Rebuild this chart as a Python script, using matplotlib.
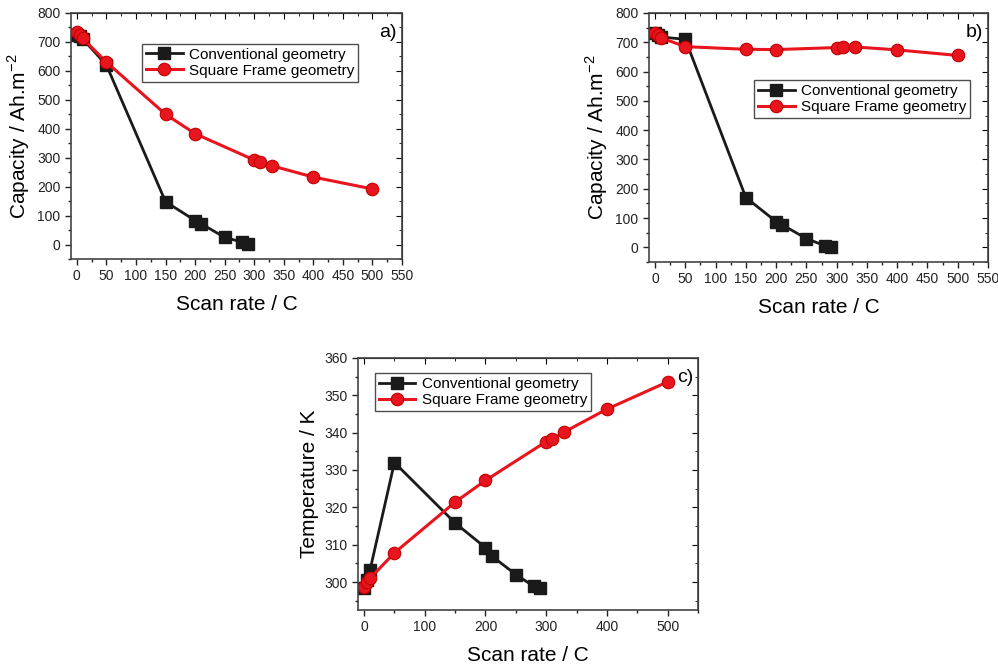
import numpy as np
import matplotlib.pyplot as plt
from matplotlib.ticker import MultipleLocator

plt.rcParams['font.family'] = ['Liberation Sans', 'DejaVu Sans']
plt.rcParams['mathtext.fontset'] = 'custom'
plt.rcParams['mathtext.rm'] = 'Liberation Sans'

# scan rates
rate = [0, 5, 10, 50, 150, 200, 210, 250, 280, 290]
rate_sq = [0, 5, 10, 50, 150, 200, 300, 310, 330, 400, 500]

# a) capacity
cap_conv_a = [725, 720, 710, 620, 148, 83, 72, 25, 8, 3]
cap_sq_a = [733, 725, 712, 630, 450, 383, 292, 285, 272, 233, 192]

# b) capacity
cap_conv_b = [730, 725, 718, 710, 170, 88, 77, 30, 6, 2]
cap_sq_b = [732, 725, 715, 685, 676, 675, 682, 683, 684, 674, 655]

# c) temperature
temp_conv = [298.5, 300.5, 303.3, 332.0, 315.8, 309.2, 307.0, 302.0, 298.8, 298.3]
temp_sq = [298.7, 300.0, 301.0, 307.8, 321.4, 327.2, 337.6, 338.2, 340.2, 346.3, 353.6]

fig = plt.figure(figsize=(9.98, 6.65), dpi=100)


def panel(rect, y1, y2, ylim, xlim, xmaj, ymaj, ylabel, tag, leg_anchor):
    ax = fig.add_axes(rect)
    ax.plot(rate, y1, color="#1a1a1a", lw=2, marker="s", ms=8,
            label="Conventional geometry")
    ax.plot(rate_sq, y2, color="#e8141e", lw=2.2, marker="o", ms=9,
            mec="#c00000", mew=0.8, label="Square Frame geometry")
    ax.set_xlim(*xlim)
    ax.set_ylim(*ylim)
    ax.xaxis.set_major_locator(MultipleLocator(xmaj))
    ax.xaxis.set_minor_locator(MultipleLocator(xmaj / 2))
    ax.yaxis.set_major_locator(MultipleLocator(ymaj))
    ax.yaxis.set_minor_locator(MultipleLocator(ymaj / 2))
    ax.tick_params(which="both", direction="out", labelsize=10, colors="#222222")
    ax.tick_params(which="major", length=4, width=1)
    ax.tick_params(which="minor", length=2.5, width=1)
    for s in ax.spines.values():
        s.set_linewidth(1.2)
        s.set_color("#444444")
    # mirror ticks on top and right, pointing in
    top = ax.secondary_xaxis("top")
    top.xaxis.set_major_locator(MultipleLocator(xmaj))
    top.xaxis.set_minor_locator(MultipleLocator(xmaj / 2))
    top.tick_params(which="both", direction="in", labeltop=False)
    top.tick_params(which="major", length=4)
    top.tick_params(which="minor", length=2.5)
    right = ax.secondary_yaxis("right")
    right.yaxis.set_major_locator(MultipleLocator(ymaj))
    right.yaxis.set_minor_locator(MultipleLocator(ymaj / 2))
    right.tick_params(which="both", direction="in", labelright=False)
    right.tick_params(which="major", length=4)
    right.tick_params(which="minor", length=2.5)

    ax.set_xlabel("Scan rate / C", fontsize=15, labelpad=8)
    ax.set_ylabel(ylabel, fontsize=15, labelpad=4)
    ax.text(0.985, 0.955, tag, transform=ax.transAxes, ha="right", va="top",
            fontsize=14)
    leg = ax.legend(loc="upper left", bbox_to_anchor=leg_anchor, fontsize=11,
                    frameon=True, fancybox=False, edgecolor="#222222",
                    handlelength=2.4, borderpad=0.25, labelspacing=0.15,
                    handletextpad=0.4, borderaxespad=0)
    leg.get_frame().set_linewidth(1.0)
    return ax


cap_label = "Capacity / Ah.m$^{\\mathregular{-2}}$"
panel((0.0711, 0.6105, 0.3317, 0.370), cap_conv_a, cap_sq_a, (-50, 800), (-10, 550),
      50, 100, cap_label, "a)", (0.215, 0.875))
panel((0.6503, 0.606, 0.3397, 0.3745), cap_conv_b, cap_sq_b, (-50, 800), (-10, 550),
      50, 100, cap_label, "b)", (0.31, 0.73))
panel((0.3587, 0.0827, 0.3407, 0.379), temp_conv, temp_sq, (292.5, 360), (-10, 550),
      100, 10, "Temperature / K", "c)", (0.05, 0.94))

fig.savefig("out.png", dpi=100)
